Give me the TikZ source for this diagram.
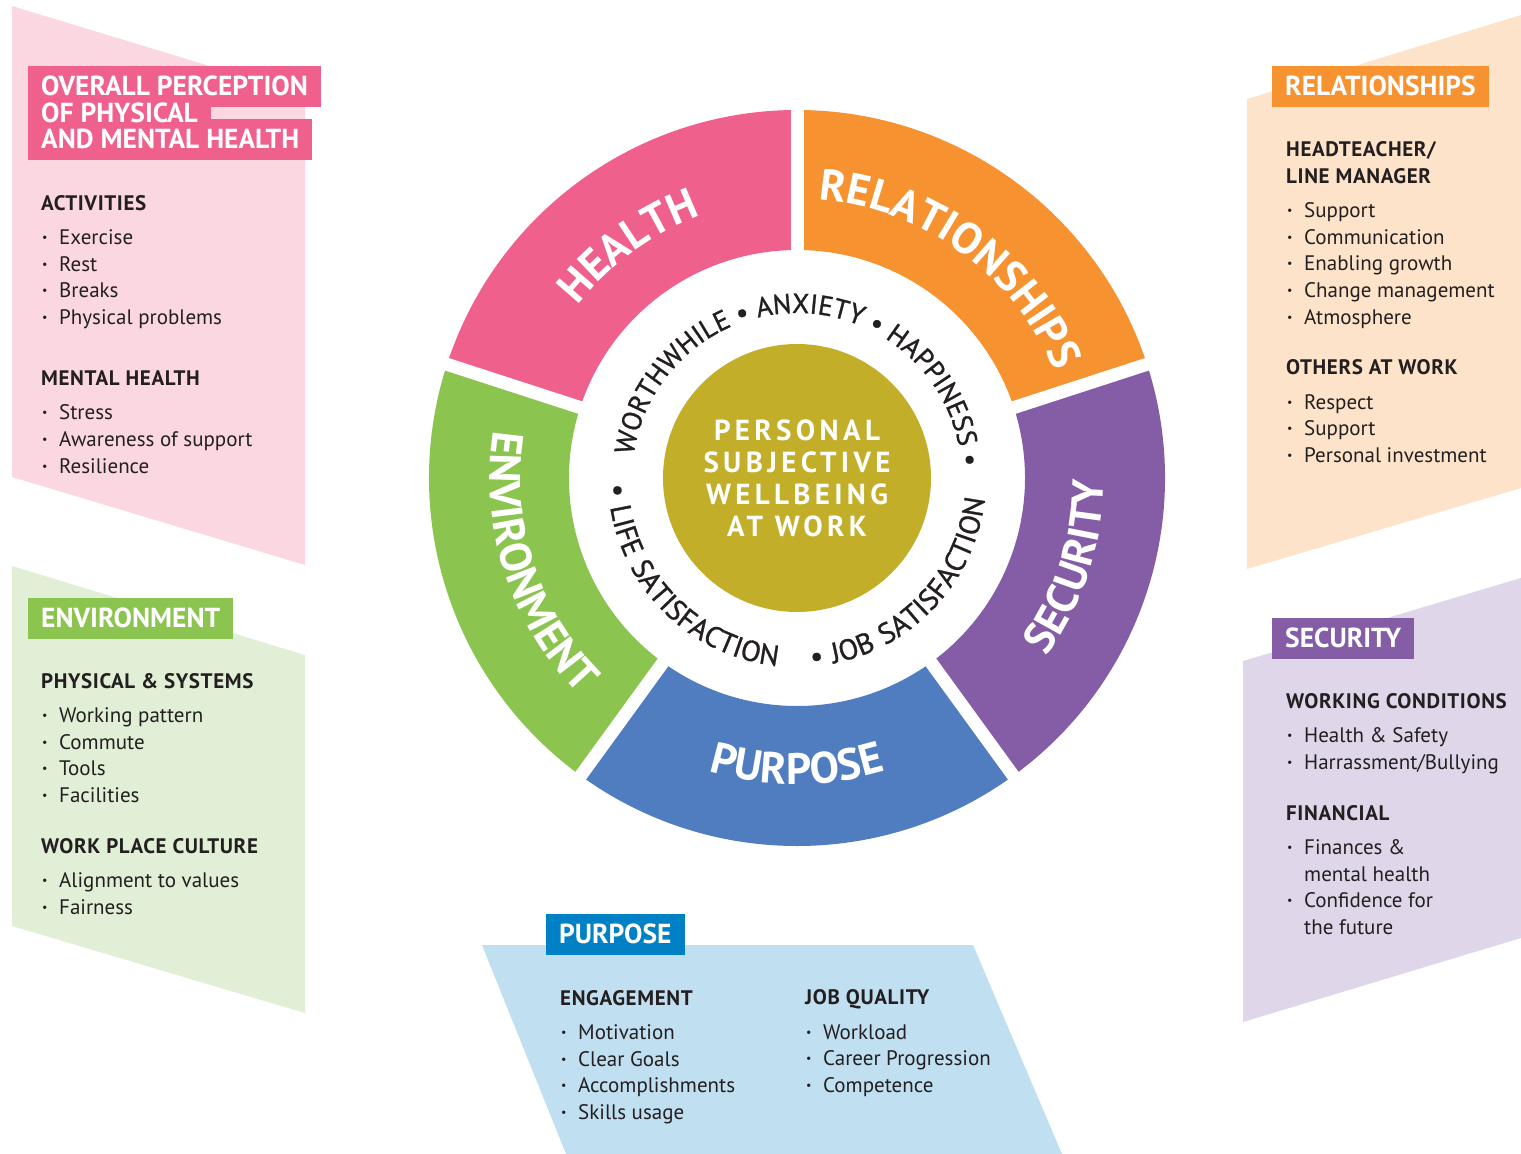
\documentclass[tikz,border=0pt]{standalone}
\usepackage{fontspec}
\setmainfont{PT Sans}
\usepackage{tikz}
\usetikzlibrary{decorations.text}

\definecolor{ink}{HTML}{231F20}
\definecolor{healthpink}{HTML}{F0608D}
\definecolor{relorange}{HTML}{F6922F}
\definecolor{secpurple}{HTML}{845DA6}
\definecolor{purblue}{HTML}{4F7DC0}
\definecolor{tagblue}{HTML}{0081C6}
\definecolor{envgreen}{HTML}{8BC54F}
\definecolor{coreolive}{HTML}{C2AE28}
\definecolor{healthpale}{HTML}{FBD7E1}
\definecolor{relpale}{HTML}{FDE3C9}
\definecolor{secpale}{HTML}{DFD6EA}
\definecolor{purpale}{HTML}{C0DFF0}
\definecolor{envpale}{HTML}{E1EFD6}

\newcommand{\bul}{\makebox[18pt][l]{\hspace{1pt}\raisebox{3pt}{\fontsize{12}{12}\selectfont •}}}
\newcommand{\segfont}{\fontsize{44}{44}\selectfont\bfseries}
\newcommand{\widesegfont}{\fontsize{44}{44}\selectfont\bfseries\addfontfeature{LetterSpace=7}}
\newcommand{\ringfont}{\fontsize{27.5}{27.5}\selectfont\addfontfeature{FakeBold=1}}
\newcommand{\lowringfont}{\fontsize{29}{29}\selectfont\addfontfeature{FakeBold=1,LetterSpace=6}}

\begin{document}
\begin{tikzpicture}[%
      x=1pt, y=-1pt,
      head/.style={anchor=west, inner sep=0pt, text height=14pt, text depth=0pt, text=ink, font=\fontsize{21}{24}\selectfont\bfseries\addfontfeature{LetterSpace=3}},
      item/.style={anchor=west, inner sep=0pt, text height=14pt, text depth=0pt, text=ink, font=\fontsize{21}{24}\selectfont, execute at begin node=\bul},
      cont/.style={anchor=west, inner sep=0pt, text height=14pt, text depth=0pt, text=ink, font=\fontsize{21}{24}\selectfont},
      tag/.style={anchor=west, inner xsep=13pt, inner ysep=0pt, minimum height=41pt, text height=18pt, text depth=0pt, text=white, font=\fontsize{27.5}{27.5}\selectfont\bfseries},
      seglabel/.style={decorate, decoration={text along path, text align=center, text color=white, text={|\segfont|#1}}},
      wideseglabel/.style={decorate, decoration={text along path, text align=center, text color=white, text={|\widesegfont|#1}}},
      ringtext/.style={decorate, decoration={text along path, text align=center, text color=ink, text={|\ringfont|#1}}},
      lowtext/.style={decorate, decoration={text along path, text align=center, text color=ink, text={|\lowringfont|#1}}},
      core/.style={align=center, inner sep=0pt, text=white, font=\fontsize{29}{32}\selectfont\bfseries\addfontfeature{LetterSpace=15}},
      ]
      \useasboundingbox (0,0) rectangle (1521,1154);
      \fill [white] (0,0) rectangle (1521,1154);

      \fill [healthpale] (12,6) -- (305,95) -- (305,565) -- (12,477) -- cycle;
      \fill [envpale] (12,566) -- (305,655) -- (305,1013) -- (12,926) -- cycle;
      \fill [relpale] (1247,99) -- (1521,15) -- (1521,488) -- (1247,569) -- cycle;
      \fill [secpale] (1243,661) -- (1521,578) -- (1521,938) -- (1243,1022) -- cycle;
      \fill [purpale] (482,945) -- (973,945) -- (1062,1154) -- (566,1154) -- cycle;

      \begin{scope}[shift={(797,478)}, y=1pt]
      \fill [healthpink] (90:228) arc (90:162:228) -- (162:368) arc (162:90:368) -- cycle;
      \fill [relorange] (18:228) arc (18:90:228) -- (90:368) arc (90:18:368) -- cycle;
      \fill [secpurple] (-54:228) arc (-54:18:228) -- (18:368) arc (18:-54:368) -- cycle;
      \fill [purblue] (234:228) arc (234:306:228) -- (306:368) arc (306:234:368) -- cycle;
      \fill [envgreen] (162:228) arc (162:234:228) -- (234:368) arc (234:162:368) -- cycle;
      \draw [white, line width=13pt] (18:215) -- (18:380);
      \draw [white, line width=13pt] (90:215) -- (90:380);
      \draw [white, line width=13pt] (162:215) -- (162:380);
      \draw [white, line width=13pt] (234:215) -- (234:380);
      \draw [white, line width=13pt] (306:215) -- (306:380);
      \fill [coreolive] (0,0) circle (134);

      \path [seglabel=HEALTH] (176:279) arc (176:76:279);
      \path [seglabel=RELATIONSHIPS] (104:279) arc (104:4:279);
      \path [wideseglabel=SECURITY] (-68:307) arc (-68:32:307);
      \path [wideseglabel=PURPOSE] (220:306) arc (220:320:306);
      \path [seglabel=ENVIRONMENT] (148:307) arc (148:248:307);

      \path [ringtext={WORTHWHILE • ANXIETY • HAPPINESS •}] (188:165) arc (188:-12:165);
      \path [lowtext={• LIFE SATISFACTION}] (167:189) arc (167:279:189);
      \path [lowtext={• JOB SATISFACTION}] (258:189) arc (258:370:189);

      \node [core] (core) at (0,0) {PERSONAL\\SUBJECTIVE\\WELLBEING\\AT WORK};
      \end{scope}

      \node [tag, fill=healthpink] (tagHealthA) at (28,86.5) {OVERALL PERCEPTION};
      \node [tag, fill=healthpink] (tagHealthC) at (28,139.5) {AND MENTAL HEALTH};
      \node [tag, fill=healthpink, minimum height=27pt] (tagHealthB) at (28,113.5) {OF PHYSICAL};
      \node [tag, fill=relorange] (tagRel) at (1272,86.5) {RELATIONSHIPS};
      \node [tag, fill=envgreen] (tagEnv) at (28,618.5) {ENVIRONMENT};
      \node [tag, fill=secpurple] (tagSec) at (1272,638.5) {SECURITY};
      \node [tag, fill=tagblue] (tagPur) at (546,934.5) {PURPOSE};

      \node [head] (actHead) at (41,203) {ACTIVITIES};
      \node [item] (act1) at (41,237) {Exercise};
      \node [item] (act2) at (41,264) {Rest};
      \node [item] (act3) at (41,290) {Breaks};
      \node [item] (act4) at (41,317) {Physical problems};
      \node [head] (mentHead) at (41,378) {MENTAL HEALTH};
      \node [item] (ment1) at (41,412) {Stress};
      \node [item] (ment2) at (41,439) {Awareness of support};
      \node [item] (ment3) at (41,466) {Resilience};

      \node [head] (physHead) at (41,681) {PHYSICAL \& SYSTEMS};
      \node [item] (phys1) at (41,715) {Working pattern};
      \node [item] (phys2) at (41,742) {Commute};
      \node [item] (phys3) at (41,768) {Tools};
      \node [item] (phys4) at (41,795) {Facilities};
      \node [head] (cultHead) at (41,846) {WORK PLACE CULTURE};
      \node [item] (cult1) at (41,880) {Alignment to values};
      \node [item] (cult2) at (41,907) {Fairness};

      \node [head] (lineHeadA) at (1286,149) {HEADTEACHER/};
      \node [head] (lineHeadB) at (1286,176) {LINE MANAGER};
      \node [item] (line1) at (1286,210) {Support};
      \node [item] (line2) at (1286,237) {Communication};
      \node [item] (line3) at (1286,263) {Enabling growth};
      \node [item] (line4) at (1286,290) {Change management};
      \node [item] (line5) at (1286,317) {Atmosphere};
      \node [head] (othHead) at (1286,367) {OTHERS AT WORK};
      \node [item] (oth1) at (1286,402) {Respect};
      \node [item] (oth2) at (1286,428) {Support};
      \node [item] (oth3) at (1286,455) {Personal investment};

      \node [head] (condHead) at (1286,701) {WORKING CONDITIONS};
      \node [item] (cond1) at (1286,735) {Health \& Safety};
      \node [item] (cond2) at (1286,762) {Harrassment/Bullying};
      \node [head] (finHead) at (1286,813) {FINANCIAL};
      \node [item] (fin1) at (1286,847) {Finances \&};
      \node [cont] (fin1b) at (1304,874) {mental health};
      \node [item] (fin2) at (1286,900) {Confidence for};
      \node [cont] (fin2b) at (1304,927) {the future};

      \node [head] (engHead) at (560,998) {ENGAGEMENT};
      \node [item] (eng1) at (560,1032) {Motivation};
      \node [item] (eng2) at (560,1059) {Clear Goals};
      \node [item] (eng3) at (560,1085) {Accomplishments};
      \node [item] (eng4) at (560,1112) {Skills usage};
      \node [head] (qualHead) at (805,997) {JOB QUALITY};
      \node [item] (qual1) at (805,1032) {Workload};
      \node [item] (qual2) at (805,1058) {Career Progression};
      \node [item] (qual3) at (805,1085) {Competence};
      \end{tikzpicture}
\end{document}
